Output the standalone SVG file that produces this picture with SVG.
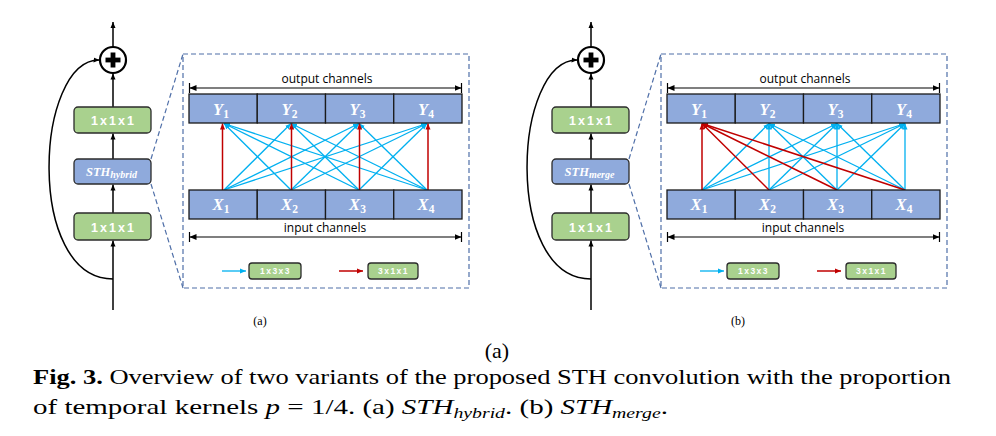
<svg xmlns="http://www.w3.org/2000/svg" width="996" height="436" viewBox="0 0 996 436">
<defs>
<style>
.bg{fill:#ffffff}
.gbox{fill:#a9d18e;stroke:#2b2b2b;stroke-width:1.3}
.bbox{fill:#8faadc;stroke:#2b2b2b;stroke-width:1.3}
.cell{fill:#8faadc;stroke:#1a1a1a;stroke-width:1.3}
.dash{fill:none;stroke:#4f6fa8;stroke-width:1.2;stroke-dasharray:5,3}
.blue{stroke:#00b0f0;stroke-width:1.3;marker-end:url(#ab)}
.red{stroke:#c00000;stroke-width:1.5;marker-end:url(#ar)}
.main{stroke:#000;stroke-width:1.5;fill:none}
.mainA{stroke:#000;stroke-width:1.5;fill:none;marker-end:url(#ak)}
.dim{stroke:#000;stroke-width:1.2;marker-start:url(#aks);marker-end:url(#ak2)}
.tick{stroke:#000;stroke-width:1.2}
.btxt{font-family:"Liberation Sans",Arial,sans-serif;font-weight:bold;fill:#fff;font-size:12.5px;letter-spacing:2px;text-anchor:middle}
.stxt{font-family:"Liberation Sans",Arial,sans-serif;font-weight:bold;fill:#fff;font-size:8.5px;letter-spacing:1.5px;text-anchor:middle}
.math{font-family:"Liberation Serif","Times New Roman",serif;font-style:italic;font-weight:bold;fill:#fff;text-anchor:middle}
.sb{font-style:normal}
.ch{font-family:"Open Sans","Liberation Sans",sans-serif;font-size:12px;fill:#000;text-anchor:middle}
.sub{font-family:"Liberation Serif","Times New Roman",serif;font-size:12px;fill:#000;text-anchor:middle}
.cap{font-family:"Liberation Serif","Times New Roman",serif;font-size:22px;fill:#000}
</style>
<marker id="ab" markerUnits="userSpaceOnUse" markerWidth="7" markerHeight="6" refX="6" refY="3" orient="auto"><path d="M0,0.5 L6,3 L0,5.5 z" fill="#00b0f0"/></marker>
<marker id="ar" markerUnits="userSpaceOnUse" markerWidth="7" markerHeight="6" refX="6" refY="3" orient="auto"><path d="M0,0.5 L6,3 L0,5.5 z" fill="#c00000"/></marker>
<marker id="ak" markerUnits="userSpaceOnUse" markerWidth="7" markerHeight="6" refX="6" refY="3" orient="auto"><path d="M0,0.5 L6,3 L0,5.5 z" fill="#000"/></marker>
<marker id="ak2" markerUnits="userSpaceOnUse" markerWidth="8" markerHeight="7" refX="7" refY="3.5" orient="auto"><path d="M0,0.5 L7,3.5 L0,6.5 z" fill="#000"/></marker>
<marker id="aks" markerUnits="userSpaceOnUse" markerWidth="8" markerHeight="7" refX="0" refY="3.5" orient="auto"><path d="M7,0.5 L0,3.5 L7,6.5 z" fill="#000"/></marker>
</defs>
<rect class="bg" x="0" y="0" width="996" height="436"/>

<!-- ================= Panel (a) ================= -->
<g id="panel-a">
  <g id="a-connectors">
    <line class="mainA" x1="113" y1="310" x2="113" y2="240.5"/>
    <line class="mainA" x1="113" y1="213" x2="113" y2="184.5"/>
    <line class="mainA" x1="113" y1="159" x2="113" y2="133.5"/>
    <line class="mainA" x1="113" y1="107" x2="113" y2="73.5"/>
    <line class="mainA" x1="113" y1="47" x2="113" y2="22"/>
    <path class="mainA" d="M113,279 C25,279 35,59 99.5,60"/>
    <line class="dash" x1="151" y1="159" x2="183" y2="54"/>
    <line class="dash" x1="151" y1="184" x2="183" y2="288"/>
    <g id="a-blue">
      <line class="blue" x1="224" y1="190" x2="291" y2="123.5"/>
      <line class="blue" x1="224" y1="190" x2="359" y2="123.5"/>
      <line class="blue" x1="224" y1="190" x2="427" y2="123.5"/>
      <line class="blue" x1="291" y1="190" x2="224" y2="123.5"/>
      <line class="blue" x1="291" y1="190" x2="359" y2="123.5"/>
      <line class="blue" x1="291" y1="190" x2="427" y2="123.5"/>
      <line class="blue" x1="359" y1="190" x2="224" y2="123.5"/>
      <line class="blue" x1="359" y1="190" x2="291" y2="123.5"/>
      <line class="blue" x1="359" y1="190" x2="427" y2="123.5"/>
      <line class="blue" x1="427" y1="190" x2="224" y2="123.5"/>
      <line class="blue" x1="427" y1="190" x2="291" y2="123.5"/>
      <line class="blue" x1="427" y1="190" x2="359" y2="123.5"/>
    </g>
    <g id="a-red">
      <line class="red" x1="222.5" y1="190" x2="222.5" y2="123.5"/>
      <line class="red" x1="291.5" y1="190" x2="291.5" y2="123.5"/>
      <line class="red" x1="359.5" y1="190" x2="359.5" y2="123.5"/>
      <line class="red" x1="428" y1="190" x2="428" y2="123.5"/>
    </g>
    <line class="dim" x1="189.5" y1="88" x2="461.5" y2="88"/>
    <line class="tick" x1="189.5" y1="83" x2="189.5" y2="93"/>
    <line class="tick" x1="461.5" y1="83" x2="461.5" y2="93"/>
    <line class="dim" x1="189.5" y1="237" x2="461.5" y2="237"/>
    <line class="tick" x1="189.5" y1="232" x2="189.5" y2="242"/>
    <line class="tick" x1="461.5" y1="232" x2="461.5" y2="242"/>
  </g>
  <rect class="dash" x="183" y="54" width="286" height="234"/>
  <g id="a-plus">
    <circle cx="113" cy="60" r="13" fill="#fff" stroke="#000" stroke-width="2.2"/>
    <rect x="105.5" y="57.6" width="15" height="4.8" fill="#000"/>
    <rect x="110.6" y="52.5" width="4.8" height="15" fill="#000"/>
  </g>
  <g id="a-conv-top">
    <rect class="gbox" x="74" y="107" width="77" height="26" rx="4"/>
    <text class="btxt" x="113.5" y="125">1x1x1</text>
  </g>
  <g id="a-sth">
    <rect class="bbox" x="74" y="159" width="77" height="25" rx="4"/>
    <text class="math" x="111.5" y="175.5" font-size="12.5">STH<tspan font-size="10" dy="2.5">hybrid</tspan></text>
  </g>
  <g id="a-conv-bottom">
    <rect class="gbox" x="74" y="213" width="77" height="27" rx="4"/>
    <text class="btxt" x="113.5" y="232">1x1x1</text>
  </g>
  <text class="ch" x="327" y="83">output channels</text>
  <g id="a-Y">
    <rect class="cell" x="189" y="94" width="68.25" height="29"/>
    <rect class="cell" x="257.25" y="94" width="68.25" height="29"/>
    <rect class="cell" x="325.5" y="94" width="68.25" height="29"/>
    <rect class="cell" x="393.75" y="94" width="68.25" height="29"/>
    <text class="math" x="221" y="115" font-size="16.5">Y<tspan class="sb" font-size="11.5" dy="3">1</tspan></text>
    <text class="math" x="289.5" y="115" font-size="16.5">Y<tspan class="sb" font-size="11.5" dy="3">2</tspan></text>
    <text class="math" x="357.5" y="115" font-size="16.5">Y<tspan class="sb" font-size="11.5" dy="3">3</tspan></text>
    <text class="math" x="426" y="115" font-size="16.5">Y<tspan class="sb" font-size="11.5" dy="3">4</tspan></text>
  </g>
  <g id="a-X">
    <rect class="cell" x="189" y="190" width="68.25" height="29"/>
    <rect class="cell" x="257.25" y="190" width="68.25" height="29"/>
    <rect class="cell" x="325.5" y="190" width="68.25" height="29"/>
    <rect class="cell" x="393.75" y="190" width="68.25" height="29"/>
    <text class="math" x="221" y="210" font-size="16.5">X<tspan class="sb" font-size="11.5" dy="3">1</tspan></text>
    <text class="math" x="289.5" y="210" font-size="16.5">X<tspan class="sb" font-size="11.5" dy="3">2</tspan></text>
    <text class="math" x="357.5" y="210" font-size="16.5">X<tspan class="sb" font-size="11.5" dy="3">3</tspan></text>
    <text class="math" x="426" y="210" font-size="16.5">X<tspan class="sb" font-size="11.5" dy="3">4</tspan></text>
  </g>
  <text class="ch" x="325" y="232">input channels</text>
  <g id="a-legend">
    <line class="blue" x1="222" y1="271" x2="246" y2="271" stroke-width="1.8"/>
    <rect class="gbox" x="249" y="263" width="52" height="16" rx="3"/>
    <text class="stxt" x="275.5" y="274.3">1x3x3</text>
    <line class="red" x1="339" y1="271" x2="363" y2="271" stroke-width="1.8"/>
    <rect class="gbox" x="368" y="263" width="50" height="16" rx="3"/>
    <text class="stxt" x="393.5" y="274.3">3x1x1</text>
  </g>
  <text class="sub" x="260" y="325">(a)</text>
</g>

<!-- ================= Panel (b) ================= -->
<g id="panel-b" transform="translate(478,0)">
  <g id="b-connectors">
    <line class="mainA" x1="113" y1="310" x2="113" y2="240.5"/>
    <line class="mainA" x1="113" y1="213" x2="113" y2="184.5"/>
    <line class="mainA" x1="113" y1="159" x2="113" y2="133.5"/>
    <line class="mainA" x1="113" y1="107" x2="113" y2="73.5"/>
    <line class="mainA" x1="113" y1="47" x2="113" y2="22"/>
    <path class="mainA" d="M113,279 C25,279 35,59 99.5,60"/>
    <line class="dash" x1="151" y1="159" x2="183" y2="54"/>
    <line class="dash" x1="151" y1="184" x2="183" y2="288"/>
    <g id="b-blue">
      <line class="blue" x1="224" y1="190" x2="291" y2="123.5"/>
      <line class="blue" x1="224" y1="190" x2="359" y2="123.5"/>
      <line class="blue" x1="224" y1="190" x2="427" y2="123.5"/>
      <line class="blue" x1="291" y1="190" x2="291" y2="123.5"/>
      <line class="blue" x1="291" y1="190" x2="359" y2="123.5"/>
      <line class="blue" x1="291" y1="190" x2="427" y2="123.5"/>
      <line class="blue" x1="359" y1="190" x2="291" y2="123.5"/>
      <line class="blue" x1="359" y1="190" x2="359" y2="123.5"/>
      <line class="blue" x1="359" y1="190" x2="427" y2="123.5"/>
      <line class="blue" x1="427" y1="190" x2="291" y2="123.5"/>
      <line class="blue" x1="427" y1="190" x2="359" y2="123.5"/>
      <line class="blue" x1="427" y1="190" x2="427" y2="123.5"/>
    </g>
    <g id="b-red">
      <line class="red" x1="224" y1="190" x2="224" y2="123.5"/>
      <line class="red" x1="291" y1="190" x2="224" y2="123.5"/>
      <line class="red" x1="359" y1="190" x2="224" y2="123.5"/>
      <line class="red" x1="427" y1="190" x2="224" y2="123.5"/>
    </g>
    <line class="dim" x1="189.5" y1="88" x2="461.5" y2="88"/>
    <line class="tick" x1="189.5" y1="83" x2="189.5" y2="93"/>
    <line class="tick" x1="461.5" y1="83" x2="461.5" y2="93"/>
    <line class="dim" x1="189.5" y1="237" x2="461.5" y2="237"/>
    <line class="tick" x1="189.5" y1="232" x2="189.5" y2="242"/>
    <line class="tick" x1="461.5" y1="232" x2="461.5" y2="242"/>
  </g>
  <rect class="dash" x="183" y="54" width="286" height="234"/>
  <g id="b-plus">
    <circle cx="113" cy="60" r="13" fill="#fff" stroke="#000" stroke-width="2.2"/>
    <rect x="105.5" y="57.6" width="15" height="4.8" fill="#000"/>
    <rect x="110.6" y="52.5" width="4.8" height="15" fill="#000"/>
  </g>
  <g id="b-conv-top">
    <rect class="gbox" x="74" y="107" width="77" height="26" rx="4"/>
    <text class="btxt" x="113.5" y="125">1x1x1</text>
  </g>
  <g id="b-sth">
    <rect class="bbox" x="74" y="159" width="77" height="25" rx="4"/>
    <text class="math" x="111.5" y="175.5" font-size="12.5">STH<tspan font-size="10" dy="2.5">merge</tspan></text>
  </g>
  <g id="b-conv-bottom">
    <rect class="gbox" x="74" y="213" width="77" height="27" rx="4"/>
    <text class="btxt" x="113.5" y="232">1x1x1</text>
  </g>
  <text class="ch" x="327" y="83">output channels</text>
  <g id="b-Y">
    <rect class="cell" x="189" y="94" width="68.25" height="29"/>
    <rect class="cell" x="257.25" y="94" width="68.25" height="29"/>
    <rect class="cell" x="325.5" y="94" width="68.25" height="29"/>
    <rect class="cell" x="393.75" y="94" width="68.25" height="29"/>
    <text class="math" x="221" y="115" font-size="16.5">Y<tspan class="sb" font-size="11.5" dy="3">1</tspan></text>
    <text class="math" x="289.5" y="115" font-size="16.5">Y<tspan class="sb" font-size="11.5" dy="3">2</tspan></text>
    <text class="math" x="357.5" y="115" font-size="16.5">Y<tspan class="sb" font-size="11.5" dy="3">3</tspan></text>
    <text class="math" x="426" y="115" font-size="16.5">Y<tspan class="sb" font-size="11.5" dy="3">4</tspan></text>
  </g>
  <g id="b-X">
    <rect class="cell" x="189" y="190" width="68.25" height="29"/>
    <rect class="cell" x="257.25" y="190" width="68.25" height="29"/>
    <rect class="cell" x="325.5" y="190" width="68.25" height="29"/>
    <rect class="cell" x="393.75" y="190" width="68.25" height="29"/>
    <text class="math" x="221" y="210" font-size="16.5">X<tspan class="sb" font-size="11.5" dy="3">1</tspan></text>
    <text class="math" x="289.5" y="210" font-size="16.5">X<tspan class="sb" font-size="11.5" dy="3">2</tspan></text>
    <text class="math" x="357.5" y="210" font-size="16.5">X<tspan class="sb" font-size="11.5" dy="3">3</tspan></text>
    <text class="math" x="426" y="210" font-size="16.5">X<tspan class="sb" font-size="11.5" dy="3">4</tspan></text>
  </g>
  <text class="ch" x="325" y="232">input channels</text>
  <g id="b-legend">
    <line class="blue" x1="222" y1="271" x2="246" y2="271" stroke-width="1.8"/>
    <rect class="gbox" x="249" y="263" width="52" height="16" rx="3"/>
    <text class="stxt" x="275.5" y="274.3">1x3x3</text>
    <line class="red" x1="339" y1="271" x2="363" y2="271" stroke-width="1.8"/>
    <rect class="gbox" x="368" y="263" width="50" height="16" rx="3"/>
    <text class="stxt" x="393.5" y="274.3">3x1x1</text>
  </g>
  <text class="sub" x="260" y="325">(b)</text>
</g>

<!-- ================= Caption ================= -->
<g id="caption">
  <text class="cap" x="497" y="358" text-anchor="middle">(a)</text>
  <text class="cap" x="33" y="384" textLength="918" lengthAdjust="spacingAndGlyphs"><tspan font-weight="bold">Fig. 3.</tspan> Overview of two variants of the proposed STH convolution with the proportion</text>
  <text class="cap" x="33" y="414" textLength="635" lengthAdjust="spacingAndGlyphs">of temporal kernels <tspan font-style="italic">p</tspan> = 1/4. (a) <tspan font-style="italic">STH</tspan><tspan font-style="italic" font-size="15" dy="4">hybrid</tspan><tspan dy="-4">. (b) </tspan><tspan font-style="italic">STH</tspan><tspan font-style="italic" font-size="15" dy="4">merge</tspan><tspan dy="-4">.</tspan></text>
</g>
</svg>
